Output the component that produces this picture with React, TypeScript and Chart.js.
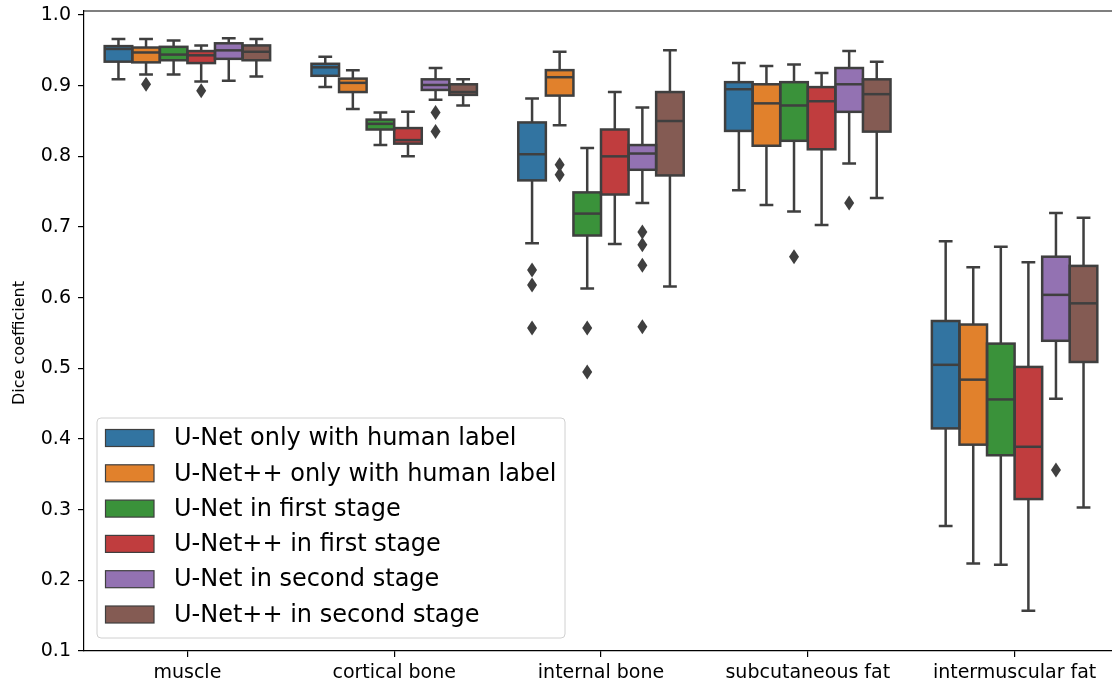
import React, { useEffect, useRef } from 'react';
import { Chart, registerables } from 'chart.js';

Chart.register(...registerables);

const categories = ['muscle', 'cortical bone', 'internal bone', 'subcutaneous fat', 'intermuscular fat'];
const seriesLabels = [
  'U-Net only with human label',
  'U-Net++ only with human label',
  'U-Net in first stage',
  'U-Net++ in first stage',
  'U-Net in second stage',
  'U-Net++ in second stage',
];
const seriesColors = ['#3274a1', '#e1812c', '#3a923a', '#c03d3e', '#9372b2', '#845b53'];
const yTicks = [0.1, 0.2, 0.3, 0.4, 0.5, 0.6, 0.7, 0.8, 0.9, 1.0];
const yAxisLabel = 'Dice coefficient';

// [lower whisker, Q1, median, Q3, upper whisker] per category
const unetHumanStats = [
  [0.909, 0.934, 0.952, 0.956, 0.966],
  [0.898, 0.914, 0.926, 0.931, 0.941],
  [0.677, 0.766, 0.803, 0.848, 0.882],
  [0.752, 0.836, 0.895, 0.905, 0.932],
  [0.277, 0.415, 0.505, 0.567, 0.680],
];
const unetHumanOutliers = [[], [], [0.639, 0.618, 0.557], [], []];

const unetppHumanStats = [
  [0.916, 0.933, 0.947, 0.954, 0.966],
  [0.867, 0.891, 0.904, 0.910, 0.922],
  [0.844, 0.886, 0.912, 0.922, 0.948],
  [0.731, 0.815, 0.875, 0.902, 0.928],
  [0.224, 0.392, 0.484, 0.562, 0.643],
];
const unetppHumanOutliers = [[0.902], [], [0.788, 0.774], [], []];

const unetFirstStats = [
  [0.916, 0.936, 0.944, 0.955, 0.964],
  [0.816, 0.838, 0.846, 0.852, 0.862],
  [0.613, 0.688, 0.719, 0.749, 0.812],
  [0.722, 0.822, 0.872, 0.905, 0.930],
  [0.222, 0.377, 0.456, 0.535, 0.672],
];
const unetFirstOutliers = [[], [], [0.557, 0.495], [0.658], []];

const unetppFirstStats = [
  [0.906, 0.932, 0.943, 0.949, 0.957],
  [0.800, 0.818, 0.823, 0.840, 0.863],
  [0.676, 0.746, 0.800, 0.838, 0.891],
  [0.703, 0.810, 0.878, 0.898, 0.918],
  [0.157, 0.315, 0.389, 0.502, 0.650],
];
const unetppFirstOutliers = [[0.893], [], [], [], []];

const unetSecondStats = [
  [0.907, 0.938, 0.950, 0.960, 0.967],
  [0.880, 0.894, 0.901, 0.909, 0.925],
  [0.734, 0.781, 0.804, 0.816, 0.869],
  [0.790, 0.863, 0.902, 0.925, 0.949],
  [0.457, 0.539, 0.604, 0.658, 0.720],
];
const unetSecondOutliers = [[], [0.862, 0.835], [0.693, 0.675, 0.646, 0.559], [0.734], [0.356]];

const unetppSecondStats = [
  [0.913, 0.936, 0.948, 0.957, 0.966],
  [0.872, 0.887, 0.891, 0.902, 0.909],
  [0.616, 0.773, 0.850, 0.891, 0.950],
  [0.741, 0.835, 0.888, 0.909, 0.934],
  [0.303, 0.509, 0.592, 0.645, 0.713],
];
const unetppSecondOutliers = [[], [], [], [], []];

const statsList = [unetHumanStats, unetppHumanStats, unetFirstStats, unetppFirstStats, unetSecondStats, unetppSecondStats];
const outliersList = [unetHumanOutliers, unetppHumanOutliers, unetFirstOutliers, unetppFirstOutliers, unetSecondOutliers, unetppSecondOutliers];

const LINE = '#3f3f3f';
const FONT = "'DejaVu Sans', 'Liberation Sans', sans-serif";

const boxPlugin = {
  id: 'boxDecor',
  afterDatasetsDraw(chart: any) {
    const ctx = chart.ctx;
    const ys = chart.scales.y;
    ctx.save();
    ctx.strokeStyle = LINE;
    ctx.fillStyle = LINE;
    ctx.lineWidth = 2.5;
    ctx.lineCap = 'butt';
    ctx.lineJoin = 'miter';
    chart.data.datasets.forEach((_ds: any, di: number) => {
      const meta = chart.getDatasetMeta(di);
      const stats = statsList[di];
      const outs = outliersList[di];
      meta.data.forEach((bar: any, i: number) => {
        const { x, width } = bar.getProps(['x', 'width'], true);
        const [lo, q1, med, q3, hi] = stats[i];
        const pLo = ys.getPixelForValue(lo);
        const pQ1 = ys.getPixelForValue(q1);
        const pMed = ys.getPixelForValue(med);
        const pQ3 = ys.getPixelForValue(q3);
        const pHi = ys.getPixelForValue(hi);
        const left = x - width / 2;
        ctx.beginPath();
        ctx.moveTo(x, pQ3);
        ctx.lineTo(x, pHi);
        ctx.moveTo(x - width / 4, pHi);
        ctx.lineTo(x + width / 4, pHi);
        ctx.moveTo(x, pQ1);
        ctx.lineTo(x, pLo);
        ctx.moveTo(x - width / 4, pLo);
        ctx.lineTo(x + width / 4, pLo);
        ctx.stroke();
        ctx.strokeRect(left, pQ3, width, pQ1 - pQ3);
        ctx.beginPath();
        ctx.moveTo(left, pMed);
        ctx.lineTo(left + width, pMed);
        ctx.stroke();
        (outs[i] || []).forEach((v: number) => {
          const py = ys.getPixelForValue(v);
          ctx.beginPath();
          ctx.moveTo(x, py - 7.5);
          ctx.lineTo(x + 5, py);
          ctx.lineTo(x, py + 7.5);
          ctx.lineTo(x - 5, py);
          ctx.closePath();
          ctx.fill();
        });
      });
    });
    ctx.restore();
  },
  afterDraw(chart: any) {
    const ctx = chart.ctx;
    const area = chart.chartArea;
    ctx.save();
    // top and right spines
    ctx.strokeStyle = '#000';
    ctx.lineWidth = 1.2;
    ctx.beginPath();
    ctx.moveTo(area.left, area.top);
    ctx.lineTo(area.right, area.top);
    ctx.lineTo(area.right, area.bottom);
    ctx.stroke();

    // y axis label
    ctx.save();
    ctx.translate(20, (area.top + area.bottom) / 2 + 12);
    ctx.rotate(-Math.PI / 2);
    ctx.font = `16px ${FONT}`;
    ctx.fillStyle = '#000';
    ctx.textAlign = 'center';
    ctx.textBaseline = 'middle';
    ctx.fillText(yAxisLabel, 0, 0);
    ctx.restore();

    // legend
    const lx = area.left + 13;
    const lw = 468;
    const lh = 220;
    const ly = area.bottom - 13 - lh;
    const r = 4;
    ctx.beginPath();
    ctx.moveTo(lx + r, ly);
    ctx.lineTo(lx + lw - r, ly);
    ctx.quadraticCurveTo(lx + lw, ly, lx + lw, ly + r);
    ctx.lineTo(lx + lw, ly + lh - r);
    ctx.quadraticCurveTo(lx + lw, ly + lh, lx + lw - r, ly + lh);
    ctx.lineTo(lx + r, ly + lh);
    ctx.quadraticCurveTo(lx, ly + lh, lx, ly + lh - r);
    ctx.lineTo(lx, ly + r);
    ctx.quadraticCurveTo(lx, ly, lx + r, ly);
    ctx.closePath();
    ctx.fillStyle = 'rgba(255,255,255,0.8)';
    ctx.fill();
    ctx.strokeStyle = '#d0d0d0';
    ctx.lineWidth = 1;
    ctx.stroke();

    ctx.font = `24px ${FONT}`;
    ctx.textBaseline = 'middle';
    ctx.textAlign = 'left';
    chart.data.datasets.forEach((ds: any, di: number) => {
      const cy = ly + 20 + di * 35.3;
      ctx.fillStyle = ds.backgroundColor;
      ctx.fillRect(lx + 8.5, cy - 8.5, 48.5, 17);
      ctx.strokeStyle = LINE;
      ctx.lineWidth = 1.2;
      ctx.strokeRect(lx + 8.5, cy - 8.5, 48.5, 17);
      ctx.fillStyle = '#000';
      ctx.fillText(ds.label, lx + 77, cy + 1);
    });
    ctx.restore();
  },
};

export default function App() {
  const canvasRef = useRef<HTMLCanvasElement | null>(null);

  useEffect(() => {
    if (!canvasRef.current) return;
    const chart = new Chart(canvasRef.current, {
      type: 'bar',
      data: {
        labels: categories,
        datasets: seriesLabels.map((label, di) => ({
          label,
          data: statsList[di].map((s) => [s[1], s[3]]),
          backgroundColor: seriesColors[di],
          borderWidth: 0,
          barPercentage: 1.0,
          categoryPercentage: 0.8,
        })),
      } as any,
      options: {
        responsive: false,
        animation: false,
        devicePixelRatio: 1,
        layout: { padding: { top: 11, right: 7, bottom: 0, left: 0 } },
        plugins: {
          legend: { display: false },
          tooltip: { enabled: false },
        },
        scales: {
          x: {
            type: 'category',
            grid: {
              offset: false,
              drawOnChartArea: false,
              drawTicks: true,
              tickLength: 6,
              color: '#000',
              lineWidth: 1.2,
            },
            border: { display: true, color: '#000', width: 1.2 },
            ticks: {
              color: '#000',
              font: { family: FONT, size: 19, lineHeight: 1 },
              padding: 7,
              maxRotation: 0,
              autoSkip: false,
            },
            afterFit: (scale: any) => {
              scale.height = 32;
              scale.paddingLeft = 0;
              scale.paddingRight = 0;
            },
          },
          y: {
            type: 'linear',
            min: 0.1,
            max: 1.0057,
            afterBuildTicks: (scale: any) => {
              scale.ticks = yTicks.map((v) => ({ value: v }));
            },
            grid: {
              drawOnChartArea: false,
              drawTicks: true,
              tickLength: 6,
              color: '#000',
              lineWidth: 1.2,
            },
            border: { display: true, color: '#000', width: 1.2 },
            ticks: {
              color: '#000',
              font: { family: FONT, size: 19, lineHeight: 1 },
              padding: 7,
              includeBounds: false,
              callback: (v: any) => Number(v).toFixed(1),
            },
            title: { display: false },
            afterFit: (scale: any) => {
              scale.width = 84;
              scale.paddingTop = 0;
              scale.paddingBottom = 0;
            },
          },
        },
      } as any,
      plugins: [boxPlugin],
    });
    return () => chart.destroy();
  }, []);

  return (
    <div
      style={{
        position: 'fixed',
        left: 0,
        top: 0,
        width: 1112,
        height: 683,
        overflow: 'hidden',
        background: '#fff',
      }}
    >
      <canvas ref={canvasRef} width={1125} height={683} style={{ display: 'block' }} />
    </div>
  );
}
